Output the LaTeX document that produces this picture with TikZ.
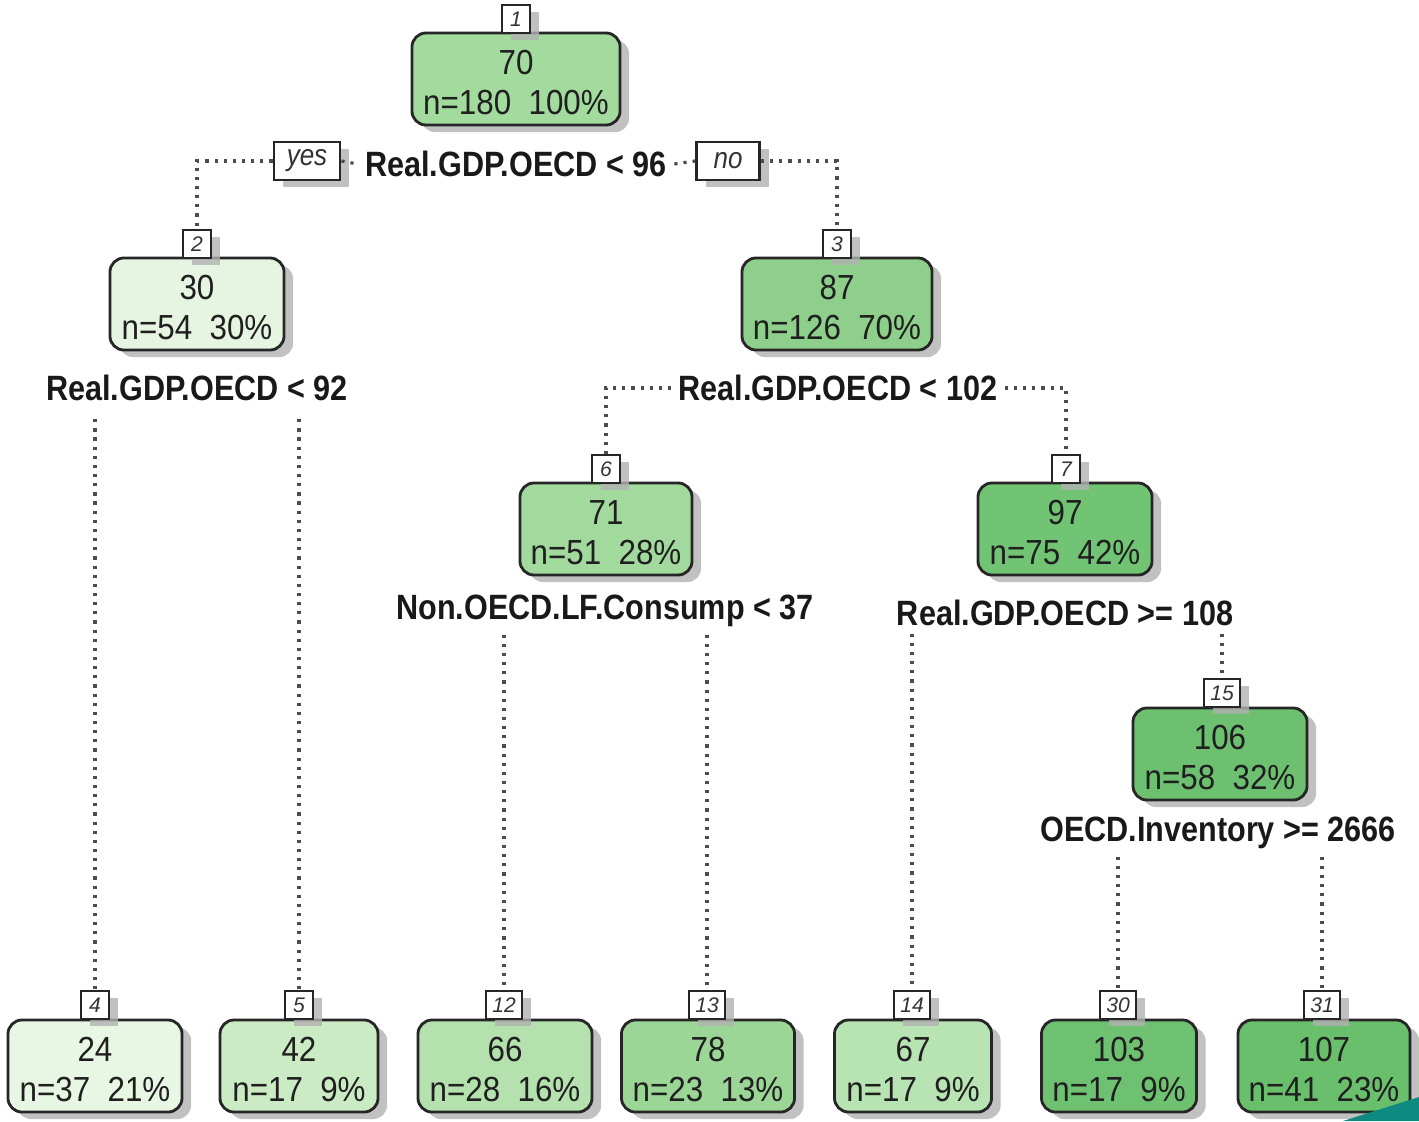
\documentclass[tikz,border=0pt]{standalone}
\usepackage{fontspec}
\setmainfont{Liberation Sans}
\newfontfamily\labfont[FakeStretch=0.87]{Liberation Sans}
\newfontfamily\boxfont[FakeStretch=0.9]{Liberation Sans}
\usetikzlibrary{shadows}
\definecolor{cA}{HTML}{A3DB9F}
\definecolor{cB}{HTML}{E6F5E1}
\definecolor{cC}{HTML}{8ED08B}
\definecolor{cD}{HTML}{E8F6E4}
\definecolor{cE}{HTML}{CBEBC5}
\definecolor{cF}{HTML}{A2DA9E}
\definecolor{cG}{HTML}{72C475}
\definecolor{cH}{HTML}{B4E1AE}
\definecolor{cI}{HTML}{9BD697}
\definecolor{cJ}{HTML}{B8E3B2}
\definecolor{cK}{HTML}{6DC070}
\definecolor{cL}{HTML}{6FC172}
\definecolor{cM}{HTML}{6ABF6D}
\definecolor{tealc}{HTML}{0F8A80}
\newcommand{\topstrut}{\rule{0pt}{9pt}}
\tikzset{
  shad/.style={drop shadow={shadow xshift=2.6pt, shadow yshift=-2pt, fill=black!30, opacity=0.8}},
  nbox/.style={draw=black!85, line width=0.8pt, rounded corners=4pt, minimum height=0.92cm,
    align=center, inner sep=0pt, text=black!88, shad,
    font=\boxfont\fontsize{9.9}{11.2}\selectfont},
  tag/.style={draw=black!85, line width=0.8pt, fill=white, minimum height=0.28cm, minimum width=0.28cm,
    inner sep=1pt, text=black!80, shad, font=\fontsize{6}{7}\selectfont\itshape},
  yn/.style={draw=black!85, line width=0.8pt, fill=white, minimum height=0.38cm,
    inner sep=1pt, text=black!80, shad, font=\labfont\fontsize{8.5}{9}\selectfont\itshape},
  splitlab/.style={inner sep=2pt, text=black!90, font=\labfont\bfseries\fontsize{10}{11}\selectfont},
  branch/.style={draw=black!70, line width=0.9pt, dash pattern=on 0.9pt off 1.7pt}
}
\begin{document}
\begin{tikzpicture}[x=0.01cm,y=-0.01cm]
\useasboundingbox[fill=white] (0,0) rectangle (1419,1121);

% inner nodes
\node[nbox, fill=cA, minimum width=2.08cm] (n1) at (516,79) {\topstrut70\\n=180\ \ 100\%};
\node[tag] (t1) at (516,19) {1};
\node[nbox, fill=cB, minimum width=1.74cm] (n2) at (197,304) {\topstrut30\\n=54\ \ 30\%};
\node[tag] (t2) at (197,244) {2};
\node[nbox, fill=cC, minimum width=1.90cm] (n3) at (837,304) {\topstrut87\\n=126\ \ 70\%};
\node[tag] (t3) at (837,244) {3};
\node[nbox, fill=cF, minimum width=1.72cm] (n6) at (606,529) {\topstrut71\\n=51\ \ 28\%};
\node[tag] (t6) at (606,469) {6};
\node[nbox, fill=cG, minimum width=1.74cm] (n7) at (1065,529) {\topstrut97\\n=75\ \ 42\%};
\node[tag] (t7) at (1066,469) {7};
\node[nbox, fill=cK, minimum width=1.74cm] (n15) at (1220,754) {\topstrut106\\n=58\ \ 32\%};
\node[tag, minimum width=0.36cm] (t15) at (1222,693) {15};

% leaves
\node[nbox, fill=cD, minimum width=1.74cm] (n4) at (95,1066) {\topstrut24\\n=37\ \ 21\%};
\node[tag] (t4) at (95,1005) {4};
\node[nbox, fill=cE, minimum width=1.58cm] (n5) at (299,1066) {\topstrut42\\n=17\ \ 9\%};
\node[tag] (t5) at (299,1005) {5};
\node[nbox, fill=cH, minimum width=1.74cm] (n12) at (505,1066) {\topstrut66\\n=28\ \ 16\%};
\node[tag, minimum width=0.36cm] (t12) at (504,1005) {12};
\node[nbox, fill=cI, minimum width=1.73cm] (n13) at (708,1066) {\topstrut78\\n=23\ \ 13\%};
\node[tag, minimum width=0.36cm] (t13) at (707,1005) {13};
\node[nbox, fill=cJ, minimum width=1.57cm] (n14) at (913,1066) {\topstrut67\\n=17\ \ 9\%};
\node[tag, minimum width=0.36cm] (t14) at (912,1005) {14};
\node[nbox, fill=cL, minimum width=1.55cm] (n30) at (1119,1066) {\topstrut103\\n=17\ \ 9\%};
\node[tag, minimum width=0.36cm] (t30) at (1118,1005) {30};
\node[nbox, fill=cM, minimum width=1.72cm] (n31) at (1324,1066) {\topstrut107\\n=41\ \ 23\%};
\node[tag, minimum width=0.36cm] (t31) at (1322,1005) {31};

% split labels
\node[splitlab] (s1) at (516,164) {Real.GDP.OECD < 96};
\node[yn, minimum width=0.66cm] (yes) at (307,161) {yes};
\node[yn, minimum width=0.63cm] (no) at (728,161) {no};
\node[splitlab] (s2) at (197,388) {Real.GDP.OECD < 92};
\node[splitlab] (s3) at (838,388) {Real.GDP.OECD < 102};
\node[splitlab] (s6) at (605,611) {Non.OECD.LF.Consump < 37};
\node[splitlab] (s7) at (1065,613) {Real.GDP.OECD >= 108};
\node[splitlab] (s15) at (1218,833) {OECD.Inventory >= 2666};

% branches
\draw[branch] (yes.west) -| (t2.north);
\draw[branch] (yes.east) -- (s1.west);
\draw[branch] (s1.east) -- (no.west);
\draw[branch] (no.east) -| (t3.north);
\draw[branch] ([yshift=-3pt]s2.south -| t4) -- (t4.north);
\draw[branch] ([yshift=-3pt]s2.south -| t5) -- (t5.north);
\draw[branch] (s3.west) -| (t6.north);
\draw[branch] (s3.east) -| (t7.north);
\draw[branch] (s6.south -| t12) -- (t12.north);
\draw[branch] (s6.south -| t13) -- (t13.north);
\draw[branch] (s7.south -| t14) -- (t14.north);
\draw[branch] (s7.south -| t15) -- (t15.north);
\draw[branch] (s15.south -| t30) -- (t30.north);
\draw[branch] (s15.south -| t31) -- (t31.north);

% corner decoration
\fill[tealc] (1343,1121) -- (1419,1097) -- (1419,1121) -- cycle;
\end{tikzpicture}
\end{document}
